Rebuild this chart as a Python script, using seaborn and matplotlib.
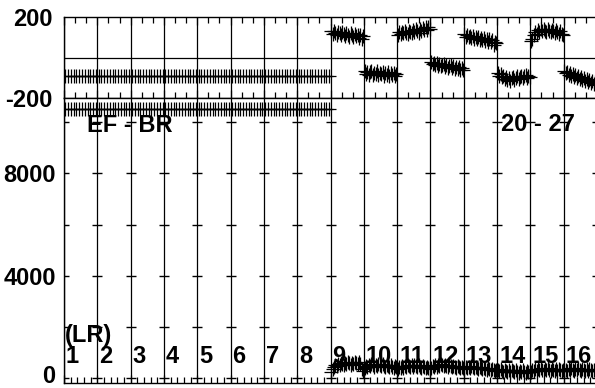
import matplotlib
matplotlib.use("Agg")
import matplotlib.pyplot as plt
import matplotlib.transforms as mtrans
from matplotlib.ticker import MultipleLocator
import pandas as pd
import seaborn as sns

# ---------------- data ----------------
section_labels = ["1", "2", "3", "4", "5", "6", "7", "8",
                  "9", "10", "11", "12", "13", "14", "15", "16"]
top_yticks = [-200, 200]
low_yticks = [0, 4000, 8000]
low_cross_levels = [0, 2000, 4000, 6000, 8000, 10000]

# upper panel (sections 1-8 are flat)
top_s1 = [-91, -91, -91, -91, -91, -91, -91, -91, -91, -91, -91, -91]
top_s2 = [-91, -91, -91, -91, -91, -91, -91, -91, -91, -91, -91, -91]
top_s3 = [-91, -91, -91, -91, -91, -91, -91, -91, -91, -91, -91, -91]
top_s4 = [-91, -91, -91, -91, -91, -91, -91, -91, -91, -91, -91, -91]
top_s5 = [-91, -91, -91, -91, -91, -91, -91, -91, -91, -91, -91, -91]
top_s6 = [-91, -91, -91, -91, -91, -91, -91, -91, -91, -91, -91, -91]
top_s7 = [-91, -91, -91, -91, -91, -91, -91, -91, -91, -91, -91, -91]
top_s8 = [-91, -91, -91, -91, -91, -91, -91, -91, -91, -91, -91, -91]
top_s9 = [130, 116, 133, 121, 112, 128, 119, 109, 126, 115, 106, 122,
          112, 103, 120, 109, 100, 117, 106, 113, 98, 110, 92, 108]
top_s10 = [-68, -80, -70, -84, -73, -66, -86, -75, -81, -69, -88, -76,
           -82, -71, -89, -77, -84, -73, -91, -79, -86, -76, -89, -82]
top_s11 = [113, 124, 116, 128, 119, 131, 123, 115, 133, 126, 119, 137,
           128, 140, 130, 123, 142, 133, 146, 135, 149, 138, 152, 143]
top_s12 = [-23, -34, -27, -38, -29, -42, -33, -44, -36, -31, -47, -38,
           -50, -41, -36, -52, -44, -55, -46, -58, -49, -61, -52, -62]
top_s13 = [114, 102, 110, 99, 108, 95, 105, 93, 102, 90, 100, 87,
           97, 84, 94, 82, 91, 79, 89, 75, 85, 64, 78, 72]
top_s14 = [-76, -90, -81, -97, -89, -105, -95, -111, -99, -114, -103, -96,
           -110, -100, -93, -107, -96, -89, -103, -93, -86, -99, -89, -95]
top_s15 = [80, 93, 112, 127, 118, 134, 126, 140, 130, 143, 133, 127,
           141, 132, 124, 137, 129, 121, 134, 124, 117, 129, 115, 113]
top_s16 = [-66, -78, -71, -84, -77, -90, -83, -95, -88, -101, -93, -106,
           -98, -111, -103, -115, -108, -121, -113, -126, -118, -131, -123, -136]

# lower panel
low_s1 = [10520, 10520, 10520, 10520, 10520, 10520, 10520, 10520, 10520, 10520, 10520, 10520]
low_s2 = [10520, 10520, 10520, 10520, 10520, 10520, 10520, 10520, 10520, 10520, 10520, 10520]
low_s3 = [10520, 10520, 10520, 10520, 10520, 10520, 10520, 10520, 10520, 10520, 10520, 10520]
low_s4 = [10520, 10520, 10520, 10520, 10520, 10520, 10520, 10520, 10520, 10520, 10520, 10520]
low_s5 = [10520, 10520, 10520, 10520, 10520, 10520, 10520, 10520, 10520, 10520, 10520, 10520]
low_s6 = [10520, 10520, 10520, 10520, 10520, 10520, 10520, 10520, 10520, 10520, 10520, 10520]
low_s7 = [10520, 10520, 10520, 10520, 10520, 10520, 10520, 10520, 10520, 10520, 10520, 10520]
low_s8 = [10520, 10520, 10520, 10520, 10520, 10520, 10520, 10520, 10520, 10520, 10520, 10520]
low_s9 = [250, 340, 420, 500, 460, 560, 520, 610, 570, 510, 590, 540,
          630, 580, 530, 610, 560, 650, 600, 540, 620, 560, 340, 280]
low_s10 = [400, 480, 440, 520, 460, 550, 500, 450, 530, 470, 570, 510,
           460, 540, 480, 440, 520, 470, 420, 500, 450, 400, 460, 420]
low_s11 = [350, 420, 390, 460, 410, 490, 440, 510, 460, 430, 500, 450,
           520, 470, 430, 500, 450, 410, 480, 430, 390, 450, 410, 370]
low_s12 = [390, 460, 420, 500, 450, 530, 480, 550, 500, 460, 530, 480,
           440, 510, 460, 420, 490, 440, 400, 460, 420, 380, 440, 400]
low_s13 = [360, 420, 380, 450, 400, 470, 420, 380, 450, 400, 360, 420,
           380, 340, 400, 360, 320, 380, 340, 300, 360, 320, 280, 330]
low_s14 = [330, 270, 340, 290, 250, 320, 270, 230, 300, 250, 320, 270,
           230, 300, 250, 210, 280, 230, 300, 250, 210, 280, 230, 250]
low_s15 = [240, 310, 270, 340, 290, 360, 310, 380, 330, 290, 360, 310,
           380, 330, 290, 360, 310, 270, 340, 290, 360, 310, 270, 300]
low_s16 = [270, 330, 290, 360, 310, 380, 330, 290, 360, 310, 380, 330,
           290, 360, 310, 270, 340, 290, 360, 310, 270, 330, 280, 260]

top_series = [top_s1, top_s2, top_s3, top_s4, top_s5, top_s6, top_s7, top_s8,
              top_s9, top_s10, top_s11, top_s12, top_s13, top_s14, top_s15, top_s16]
low_series = [low_s1, low_s2, low_s3, low_s4, low_s5, low_s6, low_s7, low_s8,
              low_s9, low_s10, low_s11, low_s12, low_s13, low_s14, low_s15, low_s16]


def to_frame(series_list):
    rows = []
    for i, vals in enumerate(series_list):
        n = len(vals)
        for k, v in enumerate(vals):
            rows.append({"x": i + (k + 0.5) / n, "y": v, "section": section_labels[i]})
    return pd.DataFrame(rows)


df_top = to_frame(top_series)
df_low = to_frame(low_series)

# ---------------- style ----------------
sns.set_theme(style="white")
plt.rcParams["font.family"] = ["Liberation Sans", "DejaVu Sans"]
plt.rcParams["font.weight"] = "bold"
plt.rcParams["text.color"] = "black"
plt.rcParams["xtick.color"] = "black"
plt.rcParams["ytick.color"] = "black"
plt.rcParams["xtick.labelcolor"] = "black"
plt.rcParams["ytick.labelcolor"] = "black"
FS = 17

W, H = 595, 388
fig = plt.figure(figsize=(W / 100, H / 100), dpi=100)
fig.patch.set_facecolor("white")

x0, x1 = 64, 597
ax_top = fig.add_axes([x0 / W, 1 - 98 / H, (x1 - x0) / W, (98 - 17) / H])
ax_low = fig.add_axes([x0 / W, 1 - 383 / H, (x1 - x0) / W, (383 - 98) / H])

n_sec = len(section_labels)
for ax in (ax_top, ax_low):
    ax.set_facecolor("white")
    ax.set_xlim(0, n_sec)
    ax.set_xticks(range(n_sec + 1))
    ax.grid(False)
    for sp in ax.spines.values():
        sp.set_color("black")
        sp.set_linewidth(1.0)
    for b in range(n_sec + 1):
        ax.axvline(b, color="black", lw=0.9, zorder=1)

MS = 100
# upper panel
ax_top.set_ylim(-200, 200)
ax_top.axhline(0, color="black", lw=0.9, zorder=1)
sns.scatterplot(data=df_top, x="x", y="y", marker="+", color="black", s=MS,
                linewidth=0.9, ax=ax_top, legend=False, zorder=3)
ax_top.xaxis.set_minor_locator(MultipleLocator(1 / 3))
ax_top.tick_params(axis="x", which="both", direction="in", top=True, bottom=True,
                   labelbottom=False, labeltop=False, color="black", width=0.9)
ax_top.tick_params(axis="x", which="major", length=6)
ax_top.tick_params(axis="x", which="minor", length=4)
ax_top.set_yticks(top_yticks)
ax_top.set_yticklabels([str(v) for v in top_yticks], fontsize=FS, fontweight="bold",
                       color="black")
ax_top.tick_params(axis="y", length=0, pad=8)
ax_top.set_xlabel("")
ax_top.set_ylabel("")

# lower panel
ax_low.set_ylim(-190, 10950)
sns.scatterplot(data=df_low, x="x", y="y", marker="+", color="black", s=MS,
                linewidth=0.9, ax=ax_low, legend=False, zorder=3)
cross_x = [b for b in range(n_sec + 1) for _ in low_cross_levels]
cross_y = [lv for _ in range(n_sec + 1) for lv in low_cross_levels]
ax_low.scatter(cross_x, cross_y, marker="_", s=56, color="black", linewidths=1.0, zorder=2)
ax_low.xaxis.set_minor_locator(MultipleLocator(0.2))
ax_low.tick_params(axis="x", which="both", direction="in", top=False, bottom=True,
                   labelbottom=False, color="black", width=0.9)
ax_low.tick_params(axis="x", which="major", length=6)
ax_low.tick_params(axis="x", which="minor", length=4)
ax_low.set_yticks(low_yticks)
ax_low.set_yticklabels([str(v) for v in low_yticks], fontsize=FS, fontweight="bold",
                       color="black")
ax_low.tick_params(axis="y", length=0, pad=6)
ax_low.set_xlabel("")
ax_low.set_ylabel("")
# nudge the bottom "0" label up so it stays inside the figure
zero_lab = ax_low.get_yticklabels()[0]
zero_lab.set_transform(zero_lab.get_transform() +
                       mtrans.ScaledTranslation(0, 4 / 100, fig.dpi_scale_trans))

# labels
trans = mtrans.blended_transform_factory(ax_low.transData, ax_low.transAxes)
for i, lab in enumerate(section_labels):
    ax_low.text(i + 0.06, (383 - 363) / 285, lab, transform=trans, fontsize=FS,
                fontweight="bold", ha="left", va="baseline", color="black", zorder=5)
ax_low.text(0.03, (383 - 342) / 285, "(LR)", transform=trans, fontsize=FS,
            fontweight="bold", ha="left", va="baseline", color="black", zorder=5)
ax_low.text(0.68, (383 - 132) / 285, "EF - BR", transform=trans, fontsize=FS,
            fontweight="bold", ha="left", va="baseline", color="black", zorder=5)
ax_low.text(13.12, (383 - 131) / 285, "20 - 27", transform=trans, fontsize=FS,
            fontweight="bold", ha="left", va="baseline", color="black", zorder=5)

fig.savefig("out.png", dpi=100, facecolor="white")
